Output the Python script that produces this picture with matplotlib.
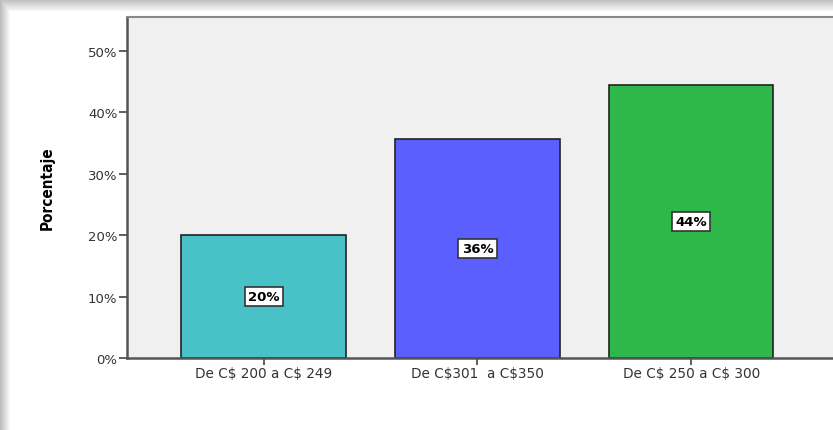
import numpy as np
import matplotlib
matplotlib.use("Agg")
import matplotlib.pyplot as plt

categories = ["De C\\$ 200 a C\\$ 249", "De C\\$301  a C\\$350", "De C\\$ 250 a C\\$ 300"]
values = [20.0, 35.6, 44.4]
labels = ["20%", "36%", "44%"]
colors = ["#48c2c6", "#5b5ffe", "#2fb84a"]
yticks = [0, 10, 20, 30, 40, 50]

W, H = 833, 431
fig = plt.figure(figsize=(W / 100, H / 100), dpi=100)
fig.patch.set_facecolor("white")

# card shadow along the top and left edges
bg = fig.add_axes([0, 0, 1, 1])
bg.set_axis_off()
img = np.ones((H, W))
top = np.linspace(0.74, 0.96, 12)
left = np.linspace(0.74, 0.97, 10)
for i, v in enumerate(top):
    img[i, :] = np.minimum(img[i, :], v)
for j, v in enumerate(left):
    img[:, j] = np.minimum(img[:, j], v)
bg.imshow(img, cmap="gray", vmin=0, vmax=1, aspect="auto",
          extent=[0, W, H, 0], interpolation="bilinear")
bg.set_xlim(0, W)
bg.set_ylim(H, 0)

x0, x1, y_top, y_bot = 127, 845, 18, 359
ax = fig.add_axes([x0 / W, (H - y_bot) / H, (x1 - x0) / W, (y_bot - y_top) / H])
ax.set_facecolor("#f0f0f0")

pos = np.arange(len(categories))
ax.bar(pos, values, width=0.77, color=colors, edgecolor="#222222", linewidth=1.2, zorder=2)
for p, v, t in zip(pos, values, labels):
    ax.text(p, v / 2, t, ha="center", va="center", fontsize=9.5, fontweight="bold",
            family="DejaVu Sans", zorder=3,
            bbox=dict(boxstyle="square,pad=0.25", facecolor="white", edgecolor="#333333", linewidth=1.2))

ax.set_xlim(-0.64, 2.72)
ax.set_ylim(0, 55.5)
ax.set_yticks(yticks)
ax.set_yticklabels([f"{t}%" for t in yticks], fontsize=9.5, color="#333333", family="DejaVu Sans")
ax.set_xticks(pos)
ax.set_xticklabels(categories, fontsize=9.8, color="#333333", family="DejaVu Sans")
ax.tick_params(axis="y", direction="out", length=6, width=1.2, color="#444444", pad=1)
ax.tick_params(axis="x", direction="out", length=5, width=1.2, color="#444444", pad=1)

for s in ["left", "bottom"]:
    ax.spines[s].set_color("#555555")
    ax.spines[s].set_linewidth(1.8)
ax.spines["top"].set_color("#888888")
ax.spines["top"].set_linewidth(1.5)
ax.spines["right"].set_visible(False)

ax.set_ylabel("Porcentaje", fontsize=11, fontweight="bold", fontstretch="condensed",
              family="DejaVu Sans", labelpad=24)

fig.savefig("out.png", dpi=100, facecolor=fig.get_facecolor())
